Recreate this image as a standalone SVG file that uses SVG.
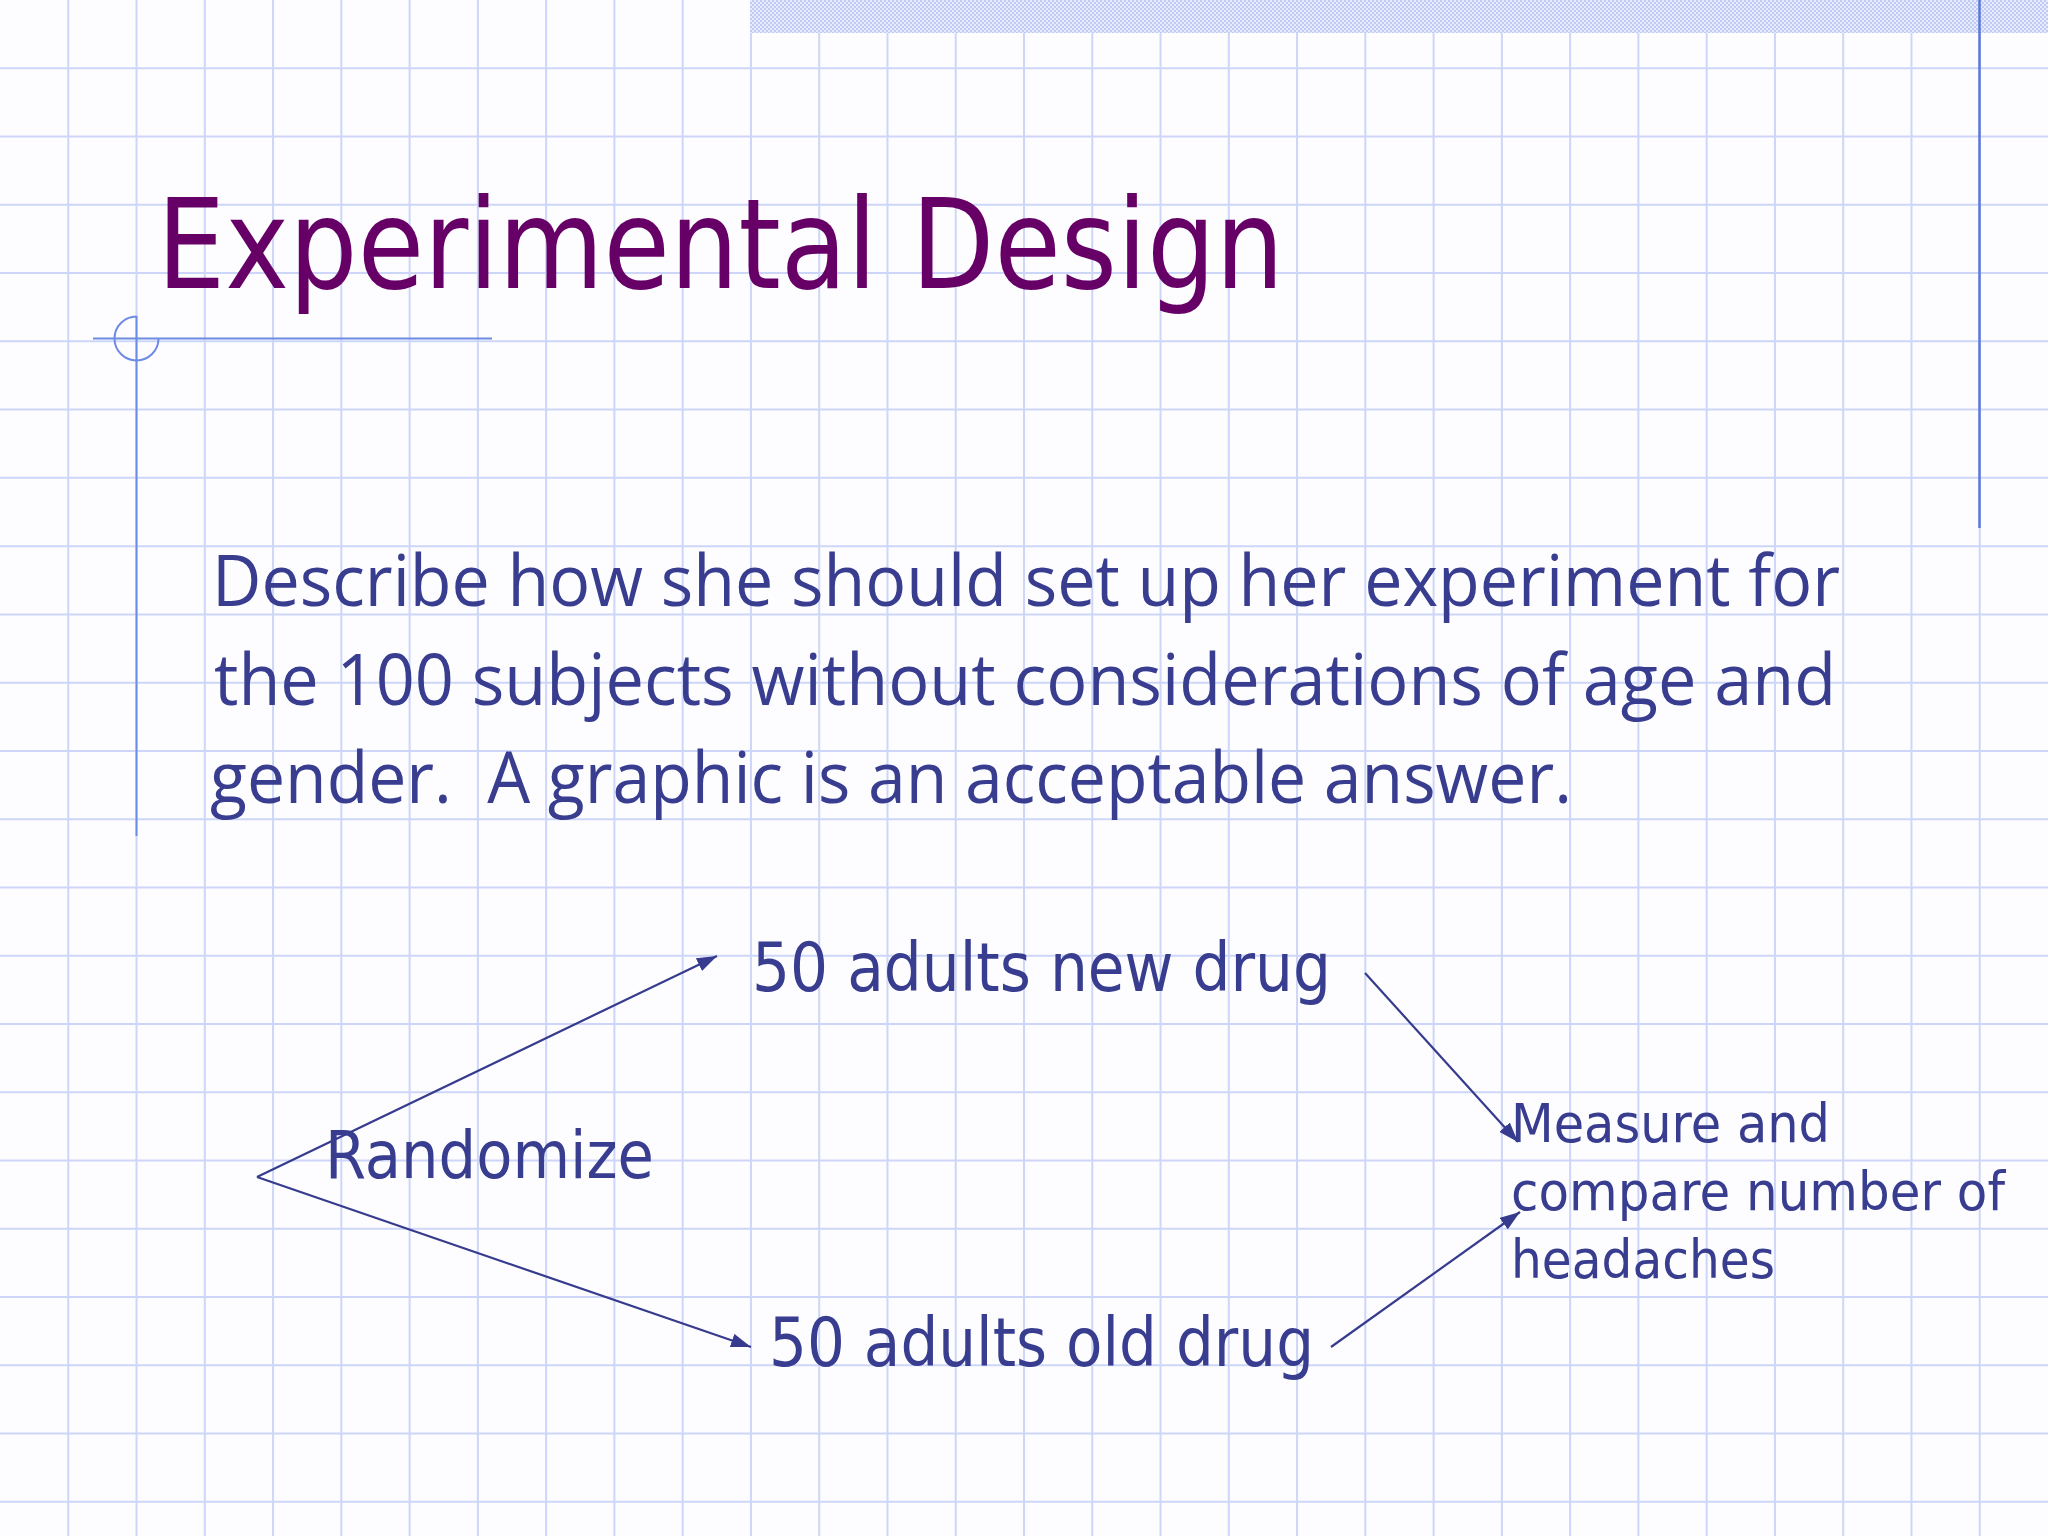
<svg xmlns="http://www.w3.org/2000/svg" width="2048" height="1536" viewBox="0 0 2048 1536">
<style>
.grid{stroke:#cdd6f8;stroke-width:2;fill:none}
.deco{stroke:#6d8be3;stroke-width:2;fill:none}
.conn{stroke:#363b8e;stroke-width:2.2;fill:none}
.title{font-family:"DejaVu Sans",Verdana,sans-serif;font-size:125px;fill:#660066}
.body{font-family:"Open Sans","DejaVu Sans",sans-serif;font-size:72px;fill:#383d8f}
.lbl{font-family:"DejaVu Sans",Verdana,sans-serif;fill:#383d8f}
</style>
<defs>
<pattern id="check" width="4" height="4" patternUnits="userSpaceOnUse">
<rect width="4" height="4" fill="#e6ebfb"/>
<rect width="2" height="2" fill="#bfcbf3"/>
<rect x="2" y="2" width="2" height="2" fill="#bfcbf3"/>
</pattern>
<marker id="arr" markerUnits="userSpaceOnUse" markerWidth="22" markerHeight="14" refX="20" refY="7" orient="auto">
<path d="M0,0 L20,7 L0,14 Z" fill="#363b8e"/>
</marker>
</defs>
<rect width="2048" height="1536" fill="#fdfdff"/>
<g id="grid">
<path class="grid" d="M68.27,0V1536M136.53,0V1536M204.8,0V1536M273.07,0V1536M341.33,0V1536M409.6,0V1536M477.87,0V1536M546.13,0V1536M614.4,0V1536M682.67,0V1536M750.93,0V1536M819.2,0V1536M887.47,0V1536M955.73,0V1536M1024,0V1536M1092.27,0V1536M1160.53,0V1536M1228.8,0V1536M1297.07,0V1536M1365.33,0V1536M1433.6,0V1536M1501.87,0V1536M1570.13,0V1536M1638.4,0V1536M1706.67,0V1536M1774.93,0V1536M1843.2,0V1536M1911.47,0V1536M1979.73,0V1536"/>
<path class="grid" d="M0,68.27H2048M0,136.53H2048M0,204.8H2048M0,273.07H2048M0,341.33H2048M0,409.6H2048M0,477.87H2048M0,546.13H2048M0,614.4H2048M0,682.67H2048M0,750.93H2048M0,819.2H2048M0,887.47H2048M0,955.73H2048M0,1024H2048M0,1092.27H2048M0,1160.53H2048M0,1228.8H2048M0,1297.07H2048M0,1365.33H2048M0,1433.6H2048M0,1501.87H2048"/>
</g>
<g id="band">
<rect x="750" y="0" width="1298" height="33" fill="url(#check)"/>
<line x1="1979.5" y1="0" x2="1979.5" y2="528" stroke="#5a78dc" stroke-width="2.5"/>
</g>
<g id="margin">
<line class="deco" x1="93" y1="338.5" x2="492" y2="338.5"/>
<line class="deco" x1="136.5" y1="316" x2="136.5" y2="836"/>
<path class="deco" d="M136.5,316.5 A22,22 0 1 0 158.5,338.5"/>
</g>
<g id="title">
<text class="title" x="157" y="288" textLength="1127" lengthAdjust="spacingAndGlyphs">Experimental Design</text>
</g>
<g id="question">
<text class="body" x="212" y="606" textLength="1628" lengthAdjust="spacingAndGlyphs">Describe how she should set up her experiment for</text>
<text class="body" x="214" y="705" textLength="1622" lengthAdjust="spacingAndGlyphs">the 100 subjects without considerations of age and</text>
<text class="body" x="210" y="803" textLength="1362" lengthAdjust="spacingAndGlyphs" xml:space="preserve">gender.  A graphic is an acceptable answer.</text>
</g>
<g id="connectors">
<line class="conn" x1="257" y1="1177" x2="717" y2="956" marker-end="url(#arr)"/>
<line class="conn" x1="257" y1="1177" x2="751" y2="1347" marker-end="url(#arr)"/>
<line class="conn" x1="1365" y1="973" x2="1518" y2="1142" marker-end="url(#arr)"/>
<line class="conn" x1="1331" y1="1347" x2="1520" y2="1212" marker-end="url(#arr)"/>
</g>
<g id="randomize">
<text class="lbl" x="325" y="1178" font-size="66" textLength="329" lengthAdjust="spacingAndGlyphs">Randomize</text>
</g>
<g id="new-drug">
<text class="lbl" x="752" y="991" font-size="68" textLength="579" lengthAdjust="spacingAndGlyphs">50 adults new drug</text>
</g>
<g id="old-drug">
<text class="lbl" x="769" y="1366" font-size="68" textLength="545" lengthAdjust="spacingAndGlyphs">50 adults old drug</text>
</g>
<g id="measure">
<text class="lbl" x="1511" y="1142" font-size="53" textLength="319" lengthAdjust="spacingAndGlyphs">Measure and</text>
<text class="lbl" x="1511" y="1210" font-size="53" textLength="494" lengthAdjust="spacingAndGlyphs">compare number of</text>
<text class="lbl" x="1511" y="1278" font-size="53" textLength="264" lengthAdjust="spacingAndGlyphs">headaches</text>
</g>
</svg>
